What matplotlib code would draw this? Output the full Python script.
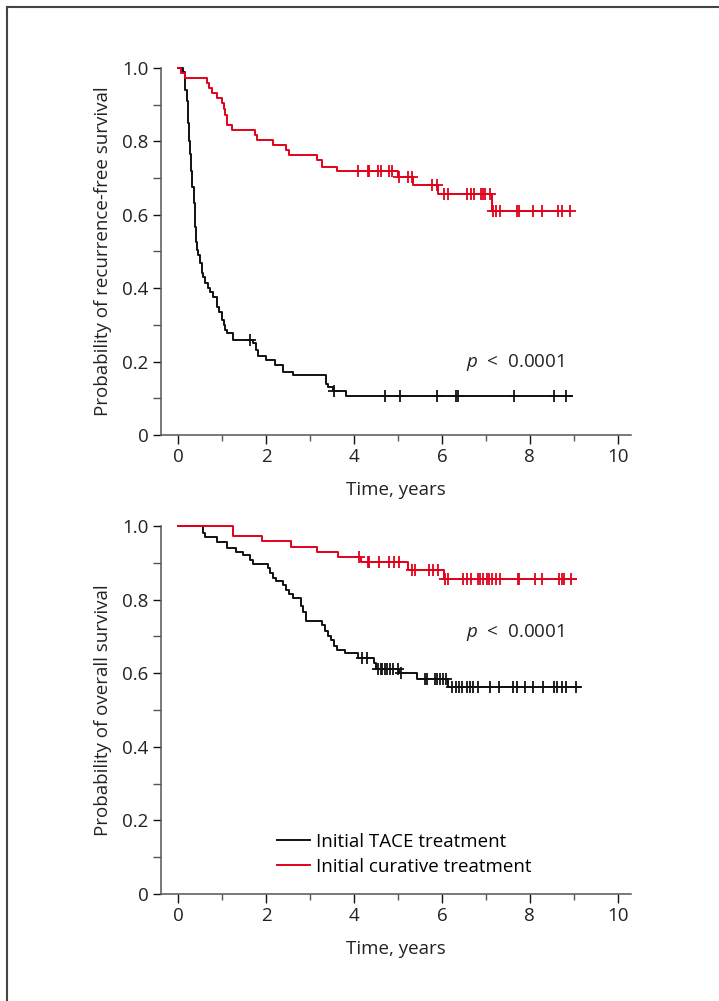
import matplotlib
matplotlib.use("Agg")
import matplotlib.pyplot as plt
from matplotlib.lines import Line2D
from matplotlib.ticker import MultipleLocator, FixedLocator
import numpy as np

plt.rcParams['font.family'] = ['Open Sans', 'DejaVu Sans']
plt.rcParams['mathtext.fontset'] = 'custom'
plt.rcParams['mathtext.it'] = 'Open Sans:italic'
plt.rcParams['mathtext.rm'] = 'Open Sans'

# --- Recurrence-free survival (top panel) ---
rfs_tace_t = [0, 0.12, 0.15, 0.17, 0.20, 0.23, 0.25, 0.27, 0.29, 0.31, 0.33, 0.36, 0.38,
              0.39, 0.42, 0.44, 0.46, 0.50, 0.54, 0.58, 0.61, 0.69, 0.73, 0.80, 0.89,
              0.94, 1.00, 1.05, 1.07, 1.12, 1.25, 1.71, 1.77, 1.83, 2.00, 2.20, 2.38,
              2.62, 3.36, 3.42, 3.53, 3.82]
rfs_tace_s = [1.0, 0.99, 0.967, 0.94, 0.91, 0.85, 0.80, 0.767, 0.72, 0.69, 0.677, 0.631, 0.60,
              0.568, 0.527, 0.504, 0.49, 0.47, 0.442, 0.431, 0.413, 0.40, 0.391, 0.377, 0.35,
              0.336, 0.313, 0.30, 0.286, 0.279, 0.259, 0.25, 0.232, 0.215, 0.204, 0.19, 0.172,
              0.163, 0.139, 0.13, 0.121, 0.105]
rfs_tace_end = 8.95
rfs_tace_cens = [1.64, 3.55, 4.70, 5.05, 5.88, 6.32, 6.37, 7.64, 8.55, 8.82]

rfs_cur_t = [0, 0.08, 0.16, 0.65, 0.71, 0.77, 0.88, 1.01, 1.05, 1.08, 1.11, 1.22, 1.75, 1.80,
             2.17, 2.45, 2.52, 3.15, 3.27, 3.61, 5.01, 5.35, 5.92, 7.15]
rfs_cur_s = [1.0, 0.987, 0.974, 0.958, 0.945, 0.931, 0.917, 0.904, 0.887, 0.872, 0.845, 0.831,
             0.817, 0.804, 0.79, 0.777, 0.762, 0.749, 0.731, 0.718, 0.702, 0.68, 0.658, 0.611]
rfs_cur_end = 8.91
rfs_cur_cens = [4.10, 4.31, 4.35, 4.55, 4.61, 4.80, 4.86, 5.02, 5.22, 5.31, 5.78, 5.88, 6.05,
                6.14, 6.56, 6.66, 6.73, 6.89, 6.94, 6.99, 7.09, 7.17, 7.22, 7.32, 7.70, 7.76,
                8.08, 8.27, 8.64, 8.72, 8.91]

# --- Overall survival (bottom panel) ---
os_tace_t = [0, 0.56, 0.62, 0.88, 1.11, 1.33, 1.48, 1.64, 1.70, 2.04, 2.10, 2.16, 2.24, 2.39,
             2.45, 2.53, 2.62, 2.80, 2.85, 2.92, 3.27, 3.34, 3.41, 3.49, 3.55, 3.61, 3.80,
             4.10, 4.46, 4.51, 5.03, 5.44, 6.14]
os_tace_s = [1.0, 0.982, 0.969, 0.957, 0.939, 0.930, 0.921, 0.908, 0.898, 0.885, 0.871, 0.860,
             0.851, 0.840, 0.826, 0.814, 0.803, 0.783, 0.767, 0.743, 0.731, 0.715, 0.70, 0.690,
             0.675, 0.663, 0.654, 0.641, 0.627, 0.611, 0.600, 0.583, 0.563]
os_tace_end = 9.15
os_tace_cens = [4.19, 4.29, 4.55, 4.61, 4.65, 4.70, 4.76, 4.82, 4.88, 5.01, 5.06, 5.61, 5.67,
                5.84, 5.89, 5.95, 6.03, 6.09, 6.22, 6.33, 6.39, 6.45, 6.56, 6.64, 6.71, 6.81,
                7.10, 7.30, 7.62, 7.70, 7.89, 8.08, 8.30, 8.55, 8.62, 8.72, 8.82, 9.05]

os_cur_t = [0, 1.26, 1.92, 2.57, 3.17, 3.64, 4.17, 5.22, 6.05]
os_cur_s = [1.0, 0.974, 0.959, 0.944, 0.929, 0.916, 0.902, 0.880, 0.856]
os_cur_end = 9.06
os_cur_cens = [4.11, 4.31, 4.35, 4.58, 4.80, 4.92, 5.03, 5.31, 5.39, 5.71, 5.80, 5.92, 6.07,
               6.14, 6.47, 6.58, 6.66, 6.83, 6.86, 6.94, 7.02, 7.08, 7.15, 7.23, 7.32, 7.72,
               7.76, 8.11, 8.27, 8.67, 8.72, 8.77, 8.93]

group_labels = ['Initial TACE treatment', 'Initial curative treatment']
x_ticks = [0, 2, 4, 6, 8, 10]
y_ticks = [0, 0.2, 0.4, 0.6, 0.8, 1.0]
y_ticklabels = ['0', '0.2', '0.4', '0.6', '0.8', '1.0']
p_label = '$\\mathit{p}$  <  0.0001'

BLACK = '#111111'
RED = '#e2001a'
SPINE = '#555555'
TEXT = '#222222'
FS = 13.5


def km_curve(ax, t, s, end, cens, color):
    """Step curve with censor marks."""
    tt = list(t) + [end]
    ss = list(s) + [s[-1]]
    ax.step(tt, ss, where='post', color=color, lw=1.4, clip_on=False, zorder=3)
    # survival value at each censor time
    idx = np.searchsorted(t, cens, side='right') - 1
    cs = [s[i] for i in idx]
    ax.plot(cens, cs, ls='none', marker='+', ms=9, mew=1.3, color=color,
            clip_on=False, zorder=3)


def style_axes(ax, ylabel):
    ax.set_xlim(-0.386, 10.3)
    ax.set_ylim(0, 1.0)
    for side in ['top', 'right']:
        ax.spines[side].set_visible(False)
    for side in ['left', 'bottom']:
        ax.spines[side].set_color(SPINE)
        ax.spines[side].set_linewidth(1.1)
    ax.xaxis.set_major_locator(FixedLocator(x_ticks))
    ax.xaxis.set_minor_locator(MultipleLocator(1))
    ax.yaxis.set_major_locator(FixedLocator(y_ticks))
    ax.yaxis.set_minor_locator(MultipleLocator(0.1))
    ax.set_yticklabels(y_ticklabels)
    ax.tick_params(axis='both', which='major', direction='out', color=BLACK, width=1.0,
                   labelsize=FS, labelcolor=TEXT)
    ax.tick_params(axis='x', which='major', length=6.5, pad=3)
    ax.tick_params(axis='y', which='major', length=6, pad=3)
    ax.tick_params(axis='x', which='minor', direction='out', length=4, width=1.0, color=SPINE)
    ax.tick_params(axis='y', which='minor', direction='out', length=5.5, width=1.0, color=SPINE)
    ax.set_xlabel('Time, years', fontsize=FS, color=TEXT, labelpad=11)
    ax.set_ylabel(ylabel, fontsize=FS, color=TEXT, labelpad=7)


fig = plt.figure(figsize=(7.19, 10.01), dpi=100)

ax1 = fig.add_axes([161 / 719, 1 - 435 / 1001, 470 / 719, 367 / 1001])
km_curve(ax1, rfs_tace_t, rfs_tace_s, rfs_tace_end, rfs_tace_cens, BLACK)
km_curve(ax1, rfs_cur_t, rfs_cur_s, rfs_cur_end, rfs_cur_cens, RED)
style_axes(ax1, 'Probability of recurrence-free survival')
ax1.text(6.55, 0.197, p_label, fontsize=FS, color=TEXT, va='center', ha='left')

ax2 = fig.add_axes([161 / 719, 1 - 894 / 1001, 470 / 719, 368 / 1001])
km_curve(ax2, os_tace_t, os_tace_s, os_tace_end, os_tace_cens, BLACK)
km_curve(ax2, os_cur_t, os_cur_s, os_cur_end, os_cur_cens, RED)
style_axes(ax2, 'Probability of overall survival')
ax2.text(6.55, 0.71, p_label, fontsize=FS, color=TEXT, va='center', ha='left')

handles = [Line2D([], [], color=BLACK, lw=1.4), Line2D([], [], color=RED, lw=1.4)]
ax2.legend(handles, group_labels, loc='lower left', bbox_to_anchor=(0.247, 0.05),
           frameon=False, fontsize=FS, borderpad=0, borderaxespad=0,
           handlelength=1.75, handletextpad=0.35, labelspacing=0.35)

# outer frame (left and top edges)
fig.add_artist(Line2D([7 / 719, 7 / 719], [0, 1 - 7 / 1001], color='#444444', lw=1.5,
                      transform=fig.transFigure))
fig.add_artist(Line2D([7 / 719, 1], [1 - 7 / 1001, 1 - 7 / 1001], color='#444444', lw=1.5,
                      transform=fig.transFigure))

fig.savefig('out.png', dpi=100)
